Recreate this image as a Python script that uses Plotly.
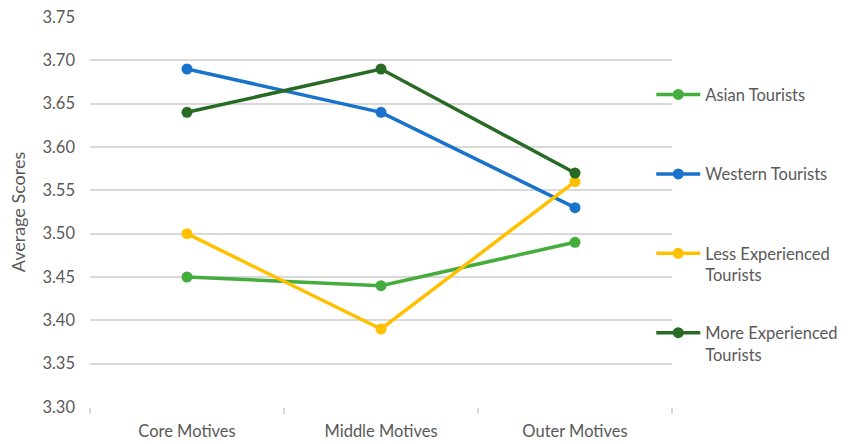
import plotly.graph_objects as go

categories = ["Core Motives", "Middle Motives", "Outer Motives"]
asian = [3.45, 3.44, 3.49]
western = [3.69, 3.64, 3.53]
less_exp = [3.50, 3.39, 3.56]
more_exp = [3.64, 3.69, 3.57]

series_names = ["Asian Tourists<br> ", "Western Tourists<br> ", "Less Experienced<br>Tourists", "More Experienced<br>Tourists"]
series_values = [asian, western, less_exp, more_exp]
colors = ["#45AD3E", "#1A73CB", "#FFC000", "#276B24"]

y_ticks = [3.30, 3.35, 3.40, 3.45, 3.50, 3.55, 3.60, 3.65, 3.70, 3.75]

fig = go.Figure()
for i, (name, vals, c) in enumerate(zip(series_names, series_values, colors)):
    fig.add_trace(go.Scatter(
        x=categories, y=vals, name=name, mode="lines+markers",
        line=dict(color=c, width=3.5),
        marker=dict(color=c, size=11),
        legendgroup=f"g{i}",
    ))

font_family = "Lato, 'Open Sans', sans-serif"
fs = 16.5
fig.update_layout(
    width=848, height=444,
    margin=dict(l=90, r=176, t=17, b=37, autoexpand=False),
    paper_bgcolor="white", plot_bgcolor="white",
    font=dict(family=font_family, size=fs, color="#595959"),
    showlegend=True,
    legend=dict(
        xref="container", yref="container",
        x=0.768, xanchor="left", y=0.826, yanchor="top",
        font=dict(size=fs, color="#595959"),
        tracegroupgap=33.5, valign="top", maxheight=420,
        itemwidth=44, bgcolor="rgba(0,0,0,0)",
    ),
    xaxis=dict(
        type="category", range=[-0.5, 2.5], automargin=False,
        showgrid=False, showline=False,
        ticks="outside", tickson="boundaries", ticklen=6,
        tickcolor="#D9D9D9", tickwidth=1.5,
        tickfont=dict(size=fs, color="#595959"),
        ticklabelstandoff=12,
        zeroline=False,
    ),
    yaxis=dict(
        range=[3.30, 3.75], tickvals=y_ticks, automargin=False,
        ticktext=[f"{v:.2f}" for v in y_ticks],
        showgrid=True, gridcolor="#D9D9D9", gridwidth=1.5,
        zeroline=False, showline=False, ticks="",
        ticklabelstandoff=14,
        tickfont=dict(size=fs, color="#595959"),
        title=dict(text="Average Scores", font=dict(size=18, color="#595959"), standoff=12),
    ),
)

fig.write_html("out.html")
